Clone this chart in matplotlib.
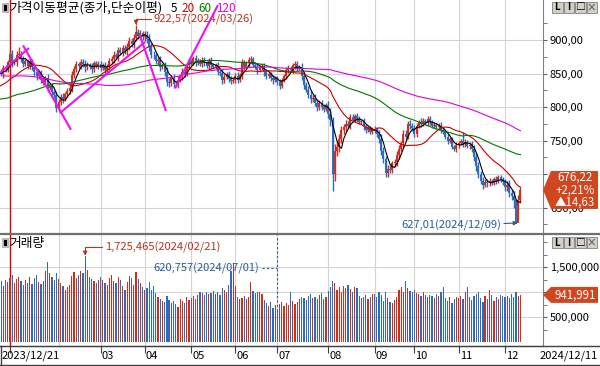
import numpy as np
import pandas as pd
import matplotlib
matplotlib.use('Agg')
import matplotlib.pyplot as plt
from matplotlib.patches import Polygon, Rectangle
from matplotlib.lines import Line2D
from matplotlib.transforms import blended_transform_factory

plt.rcParams['font.family'] = ['Noto Sans CJK KR', 'DejaVu Sans']

W, H = 600, 366

# KRX closed days inside the window
holidays = ['2023-12-25', '2023-12-29', '2024-01-01', '2024-02-09', '2024-02-12',
            '2024-03-01', '2024-04-10', '2024-05-01', '2024-05-06', '2024-05-15',
            '2024-06-06', '2024-08-15', '2024-09-16', '2024-09-17', '2024-09-18',
            '2024-10-01', '2024-10-03', '2024-10-09']

# 2023 H2 closes, only used to warm up the moving averages
prior_close = [
    880, 880, 877, 868, 860, 862, 865, 868, 878, 882, 885, 892, 900, 903, 905, 908, 920, 885, 915, 908, 916,
    918, 898, 893, 886, 878, 879, 890, 886, 884, 887, 873, 868, 858, 872, 873, 871, 881, 878, 880, 889, 897, 905,
    904, 909, 896, 889, 879, 875, 873, 866, 864, 868, 861, 854, 848, 850, 830, 835, 832, 830, 820,
    801, 800, 805, 806, 831, 834, 823, 817, 818, 818, 797, 791, 777, 783, 777, 767, 770, 758, 753,
    752, 775, 794, 839, 815, 809, 798, 788, 793, 793, 813, 812, 813, 812, 815, 815, 814, 816, 819, 820, 818, 815,
    826, 833, 827, 824, 819, 822, 827, 829, 826, 842, 847, 846, 852, 852]

close = [
    853, 849, 858, 856, 866.6,
    878.9, 866.3, 866.8, 878.3, 879.3, 871.6, 864, 868, 861, 868, 859, 852, 846, 850, 841, 836, 843, 829, 831, 822, 818, 799.2,
    807, 815, 812, 819, 824, 829, 848, 856, 864, 861, 867, 864, 859, 863, 860, 856, 865, 861, 864,
    858, 862, 855, 860, 868, 872, 878, 874, 885, 881, 888, 883, 890, 899, 894, 903, 912, 906, 910, 904,
    908, 902, 890, 878, 877, 868, 870, 860, 862, 852, 838, 836, 843, 835, 834, 841, 846, 852, 850, 862, 868,
    866, 873, 866, 869, 864, 870, 866, 861, 869, 862, 860, 862, 853, 851, 840, 845, 849, 842, 839, 840,
    847, 841, 848, 866, 859, 865, 870, 872, 862, 860, 855, 859, 861, 852, 846, 849, 843, 840, 843,
    837, 832, 840, 847, 855, 858, 855, 862, 864, 858, 860, 846, 833, 826, 818, 812, 814, 806, 800, 806, 800, 797, 803,
    790, 780, 700, 735, 740, 752, 765, 770, 775, 772, 785, 781, 786, 782, 778, 779, 770, 766, 768, 763, 767,
    765, 760, 752, 735, 722, 702, 708, 706, 716, 718, 728, 738, 746, 760, 756, 775, 772, 768,
    760, 772, 778, 775, 779, 776, 782, 778, 772, 773, 770, 772, 766, 763, 756, 750, 752, 740, 738, 743,
    746, 750, 745, 748, 742, 744, 738, 725, 712, 700, 690, 684, 688, 686, 690, 687, 692, 690, 695, 691, 688,
    680, 684, 672, 667, 661.3, 627.01, 661.59, 676.22]

# rough intraday wick length (points) around each candle body
wick = [
    4, 3, 5, 4, 3,
    5, 6, 4, 5, 6, 4, 5, 3, 4, 5, 4, 6, 5, 4, 5, 3, 4, 6, 4, 5, 4, 6,
    5, 4, 6, 3, 4, 5, 6, 5, 4, 3, 5, 4, 6, 4, 3, 5, 4, 3, 4,
    4, 3, 5, 4, 5, 4, 6, 3, 5, 4, 5, 4, 6, 5, 4, 6, 5, 4, 5, 4,
    5, 6, 7, 5, 6, 4, 5, 6, 4, 5, 7, 6, 5, 6, 4, 5, 4, 6, 5, 4, 5,
    4, 3, 5, 4, 3, 4, 5, 3, 4, 5, 3, 4, 5, 4, 6, 4, 3, 5, 4, 3,
    4, 5, 3, 6, 4, 3, 5, 4, 3, 4, 5, 3, 4, 5, 4, 3, 4, 5, 3,
    4, 5, 4, 3, 5, 4, 3, 4, 5, 4, 3, 5, 6, 4, 5, 6, 4, 5, 6, 4, 5, 4, 3,
    6, 8, 9, 10, 8, 7, 6, 5, 6, 4, 5, 4, 3, 5, 4, 3, 4, 5, 3, 4, 3,
    4, 5, 6, 7, 6, 5, 6, 5, 4, 5, 6, 5, 4, 6, 5, 4, 5, 4,
    5, 4, 3, 5, 4, 3, 4, 5, 3, 4, 3, 4, 5, 4, 3, 5, 4, 3, 4, 5,
    4, 3, 5, 4, 3, 4, 5, 6, 7, 6, 5, 6, 4, 5, 4, 3, 4, 5, 4, 3, 5,
    5, 6, 7, 6, 7, 0, 7, 5]

# intraday extremes that stand out on the chart
high_marks = {9: 890.0, 62: 922.57, 151: 785.0, 210: 763.0}
low_marks = {151: 675.0, 175: 696.0, 233: 650.0, 234: 627.01, 235: 631.0}

# volume, thousand shares
volume = [
    1180, 1230, 1120, 1250, 1200,
    1290, 1340, 1180, 1260, 1310, 1220, 1150, 1240, 1190, 1300, 1170, 1280, 1350, 1210, 1160, 1230, 1420, 1600, 1390, 1300, 1250, 1380,
    1260, 1180, 1120, 1050, 1100, 1150, 1320, 1400, 1280, 1350, 1420, 1380, 1725.465, 1450, 1300, 1260, 1220, 1180, 1250,
    1300, 1240, 1180, 1150, 1280, 1350, 1220, 1180, 1300, 1250, 1120, 1050, 1200, 1330, 1280, 1150, 1400, 1260, 1180, 1100,
    1050, 1080, 1200, 1050, 1120, 980, 900, 870, 820, 800, 920, 850, 780, 820, 760, 700, 860, 820, 780, 900, 850,
    880, 920, 860, 940, 1000, 980, 950, 1010, 960, 990, 1020, 970, 1000, 940, 1080, 1050, 1000, 1150, 1420, 1580,
    1120, 900, 870, 880, 920, 860, 900, 1200, 1020, 980, 1000, 1010, 960, 850, 780, 720, 800, 690, 740,
    620.757, 760, 800, 720, 780, 750, 1000, 830, 760, 800, 870, 900, 880, 850, 920, 960, 880, 900, 870, 940, 980, 860, 900,
    1020, 1100, 1230, 1180, 1050, 1100, 1000, 1120, 1080, 1150, 1060, 1000, 1100, 1080, 920, 880, 900, 940, 870, 900, 960,
    960, 900, 1000, 940, 820, 1010, 880, 800, 780, 850, 900, 1050, 1100, 1000, 1220, 1080, 1020, 1000,
    1050, 980, 960, 920, 1000, 940, 900, 950, 920, 890, 960, 930, 1000, 1100, 880, 820, 900, 780, 860, 900,
    880, 920, 860, 1000, 1100, 900, 850, 930, 960, 1000, 880, 800, 920, 870, 1050, 940, 820, 900, 860, 940, 920,
    900, 920, 880, 960, 900, 1000, 920, 941.991]

# hand drawn trend lines: (day index, price) end points
trend_lines = [((0.5, 851), (13.6, 888)),
               ((10.9, 892), (32.6, 766)),
               ((27.6, 791), (66.1, 897)),
               ((63.8, 907), (75.6, 794)),
               ((79.7, 828), (99.1, 952))]

ma_periods = [5, 20, 60, 120]
ma_colors = ['#000000', '#c80000', '#007800', '#e000e0']

UP, DOWN = '#cf2e1c', '#2a6cc0'

dates = pd.bdate_range('2023-12-21', '2024-12-11')
dates = dates[~dates.isin(pd.to_datetime(holidays))]
n = len(dates)
assert len(close) == n and len(volume) == n and len(wick) == n, (len(close), len(volume), len(wick), n)
x = np.arange(n)

c = np.array(close, dtype=float)
o = np.r_[prior_close[-1], c[:-1]]
hi = np.maximum(o, c) + np.array(wick)
lo = np.minimum(o, c) - np.array(wick)
for k, v in high_marks.items():
    hi[k] = v
for k, v in low_marks.items():
    lo[k] = v
up = c >= o
cols = np.where(up, UP, DOWN)
vol = np.array(volume) * 1000

full = pd.Series(prior_close + close, dtype=float)
mas = {p: full.rolling(p).mean().values[-n:] for p in ma_periods}

month_start = [i for i in range(1, n) if dates[i].month != dates[i - 1].month]


def fx(px):
    return px / W


def fy(py):
    return 1 - py / H


fig = plt.figure(figsize=(6, 3.66), dpi=100)
axp = fig.add_axes([0, fy(233), fx(543), fy(0) - fy(233)])
axv = fig.add_axes([0, fy(346), fx(543), fy(235) - fy(346)])

xlim = (0.475, 246.2)

# ---- price panel
for m in month_start:
    axp.axvline(m, color='#d4d4d4', lw=0.8, zorder=0)
for lvl in range(650, 901, 50):
    axp.axhline(lvl, color='#d4d4d4', lw=0.8, zorder=0)
axp.axvline(month_start[0], color='#e00000', lw=1.0, zorder=1)

axp.vlines(x, lo, hi, colors=cols, lw=1.0, zorder=2)
axp.vlines(x, np.minimum(o, c), np.maximum(o, c), colors=cols, lw=1.4, zorder=2)
for p, col in zip(ma_periods, ma_colors):
    axp.plot(x, mas[p], color=col, lw=0.8, zorder=3)
for a, b in trend_lines:
    axp.plot([a[0], b[0]], [a[1], b[1]], color='#f010f0', lw=1.5, zorder=4,
             solid_capstyle='butt')

axp.set_xlim(*xlim)
axp.set_ylim(612, 959.7)
axp.set_xticks([])
axp.yaxis.tick_right()
price_ticks = np.arange(650, 901, 50)
axp.set_yticks(price_ticks)
axp.set_yticks(np.arange(625, 926, 25), minor=True)
# 700 sits under the last-price box in the original, so it is left blank
axp.set_yticklabels(['' if v == 700 else f'{v:.2f}'.replace('.', ',') for v in price_ticks])
axp.tick_params(axis='y', which='both', length=3, color='#606060', labelsize=8, pad=2)
for s in ['top', 'left', 'bottom']:
    axp.spines[s].set_visible(False)
axp.spines['right'].set_color('#808080')

# max / min price markers
imax = int(np.argmax(hi))
imin = int(np.argmin(lo))
red_t, blue_t = '#b8321e', '#2b5a9c'
axp.annotate(f'{hi[imax]:.2f}'.replace('.', ',') + f'({dates[imax]:%Y/%m/%d})',
             xy=(imax, hi[imax]), xytext=(12.5, 4), textcoords='offset points',
             color=red_t, fontsize=8, va='center', ha='left',
             arrowprops=dict(arrowstyle='-|>', color=red_t, lw=0.8, shrinkA=0, shrinkB=0,
                             mutation_scale=6,
                             connectionstyle='angle,angleA=0,angleB=90,rad=0'))
axp.annotate(f'{lo[imin]:.2f}'.replace('.', ',') + f'({dates[imin]:%Y/%m/%d})',
             xy=(imin + 0.8, lo[imin]), xytext=(-12, -2), textcoords='offset points',
             color=blue_t, fontsize=8, va='center', ha='right',
             arrowprops=dict(arrowstyle='-|>', color=blue_t, lw=0.8, shrinkA=0, shrinkB=0,
                             mutation_scale=6))

# ---- volume panel
for m in month_start:
    axv.axvline(m, color='#d4d4d4', lw=0.8, zorder=0)
for lvl in [500000, 1000000, 1500000]:
    axv.axhline(lvl, color='#d4d4d4', lw=0.8, zorder=0)
axv.axvline(month_start[0], color='#e00000', lw=1.0, zorder=1)
axv.bar(x, vol, width=0.55, color=cols, zorder=2)
axv.set_xlim(*xlim)
axv.set_ylim(-80000, 2140000)
axv.yaxis.tick_right()
vol_ticks = [500000, 1000000, 1500000]
axv.set_yticks(vol_ticks)
axv.set_yticks(np.arange(250000, 2000001, 250000), minor=True)
axv.set_yticklabels(['' if v == 1000000 else f'{v:,}' for v in vol_ticks])
axv.tick_params(axis='y', which='both', length=3, color='#606060', labelsize=8, pad=2)
for s in ['top', 'left']:
    axv.spines[s].set_visible(False)
axv.spines['right'].set_color('#808080')
axv.spines['bottom'].set_color('#404040')

tick_idx = [month_start[0]] + month_start[2:]
axv.set_xticks(tick_idx)
axv.set_xticklabels([])
axv.tick_params(axis='x', length=5, color='#404040', direction='out')
tb = blended_transform_factory(axv.transData, fig.transFigure)
for m in month_start[2:]:
    axv.text(m + 0.5, fy(356), f'{dates[m]:%m}', transform=tb, fontsize=8,
             va='center', ha='left')
fig.text(fx(2), fy(356), f'{dates[0]:%Y/%m/%d}', fontsize=8, va='center', ha='left')
fig.text(fx(598), fy(356), f'{dates[-1]:%Y/%m/%d}', fontsize=8, va='center', ha='right')

vmax = int(np.argmax(vol))
vmin = int(np.argmin(vol))
axv.annotate(f'{vol[vmax]:,.0f}' + f'({dates[vmax]:%Y/%m/%d})',
             xy=(vmax, vol[vmax]), xytext=(14.5, 6), textcoords='offset points',
             color=red_t, fontsize=8, va='center', ha='left',
             arrowprops=dict(arrowstyle='-|>', color=red_t, lw=0.8, shrinkA=0, shrinkB=0,
                             mutation_scale=6,
                             connectionstyle='angle,angleA=0,angleB=90,rad=0'))
tv = axv.annotate(f'{vol[vmin]:,.0f}' + f'({dates[vmin]:%Y/%m/%d})',
                  xy=(vmin, vol[vmin]), xytext=(-13, 31), textcoords='offset points',
                  color=blue_t, fontsize=8, va='center', ha='right')
axv.plot([vmin, vmin], [vol[vmin], 2140000], color=blue_t, lw=0.8, ls=(0, (2, 2)), zorder=5)
fig.canvas.draw()
r = fig.canvas.get_renderer()
bb = tv.get_window_extent(renderer=r)
xv_disp = axv.transData.transform((vmin, 0))[0]
ymid = (bb.y0 + bb.y1) / 2
fig.add_artist(Line2D([(bb.x1 + 3) / W, xv_disp / W], [ymid / H, ymid / H],
                      color=blue_t, lw=0.8, ls=(0, (2, 2))))

# ---- frame lines
fig.add_artist(Line2D([0, 1], [fy(233.6), fy(233.6)], color='#707070', lw=1.6))
fig.add_artist(Line2D([0, 1], [fy(346), fy(346)], color='#404040', lw=1.0))
fig.add_artist(Line2D([0, 1], [fy(365.3), fy(365.3)], color='#404040', lw=1.0))
fig.add_artist(Line2D([fx(0.5), fx(0.5)], [fy(346), fy(365.3)], color='#404040', lw=1.0))


# ---- panel titles
def icon(px, py):
    fig.add_artist(Rectangle((fx(px), fy(py + 5)), fx(7), 10 / H, transform=fig.transFigure,
                             facecolor='#b8b8b8', edgecolor='none'))
    fig.add_artist(Rectangle((fx(px + 2), fy(py + 3)), fx(3), 6 / H, transform=fig.transFigure,
                             facecolor='#000000', edgecolor='none'))


icon(2, 8)
icon(2, 243)
t0 = fig.text(fx(9), fy(8), '가격이동평균(종가,단순이평)', color='#000000', fontsize=9.2,
              va='center', ha='left')
xpos = t0.get_window_extent(renderer=r).x1 + 9
for p, col in zip(ma_periods, ma_colors):
    t = fig.text(xpos / W, fy(8), str(p), color=col, fontsize=8.4, va='center', ha='left')
    xpos = t.get_window_extent(renderer=r).x1 + 4
fig.text(fx(9), fy(243), '거래량', color='#000000', fontsize=9.2, va='center', ha='left')

# ---- last value boxes
box_c = '#d0461e'


def value_box(ax, value, lines, half):
    yd = ax.transData.transform((0, value))[1]
    yp = H - yd
    pts = [(543, yp), (551, yp - half), (598, yp - half), (598, yp + half), (551, yp + half)]
    fig.add_artist(Polygon([(fx(a), fy(b)) for a, b in pts], closed=True,
                           transform=fig.transFigure, facecolor=box_c, edgecolor='none',
                           zorder=5))
    step = 2 * half / len(lines)
    for k, s in enumerate(lines):
        fig.text(fx(575), fy(yp - half + step * (k + 0.5)), s, color='white', fontsize=8.3,
                 va='center', ha='center', zorder=6)


chg = c[-1] - c[-2]
pct = chg / c[-2] * 100
value_box(axp, c[-1], [f'{c[-1]:.2f}'.replace('.', ','),
                       f'+{pct:.2f}%'.replace('.', ','),
                       '▲' + f'{chg:.2f}'.replace('.', ',')], 19)
value_box(axv, vol[-1], [f'{vol[-1]:,.0f}'], 8)

# ---- window buttons
for py in (2, 237):
    for k, g in enumerate(['L', 'I', '□', '×']):
        bx = 552 + k * 11.5
        fig.add_artist(Rectangle((fx(bx), fy(py + 11)), fx(10.5), 11 / H, transform=fig.transFigure,
                                 facecolor='#d4d0c8', edgecolor='#808080', lw=0.6, zorder=5))
        fig.text(fx(bx + 5.2), fy(py + 5.5), g, fontsize=7, ha='center', va='center',
                 color='#606060' if g == '×' else '#000000', fontweight='bold', zorder=6)

fig.savefig('out.png', dpi=100)
